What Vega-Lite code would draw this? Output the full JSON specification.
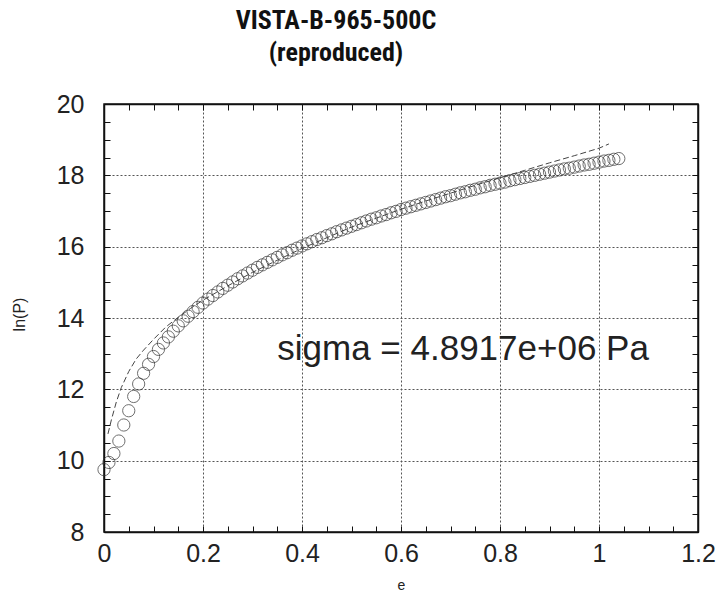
{
  "$schema": "https://vega.github.io/schema/vega-lite/v6.json",
  "width": 594,
  "height": 428,
  "autosize": {"type": "none"},
  "padding": {"left": 104, "top": 104, "right": 22, "bottom": 70},
  "background": "white",
  "config": {
    "view": {"stroke": "#111", "strokeWidth": 1.5},
    "font": "Liberation Sans"
  },
  "title": {
    "text": ["VISTA-B-965-500C", "(reproduced)"],
    "font": "Roboto Condensed, DejaVu Sans Condensed, Liberation Sans, sans-serif",
    "fontWeight": "bold",
    "fontSize": 26,
    "lineHeight": 32,
    "anchor": "middle",
    "dx": -65,
    "offset": 26,
    "color": "#111"
  },
  "datasets": {
    "pts": [
      {"e": 0.00, "lnP": 9.75}, {"e": 0.01, "lnP": 9.95}, {"e": 0.02, "lnP": 10.2}, {"e": 0.03, "lnP": 10.55},
      {"e": 0.04, "lnP": 11.0}, {"e": 0.05, "lnP": 11.4}, {"e": 0.06, "lnP": 11.8}, {"e": 0.07, "lnP": 12.15},
      {"e": 0.08, "lnP": 12.45}, {"e": 0.09, "lnP": 12.7}, {"e": 0.10, "lnP": 12.92}, {"e": 0.11, "lnP": 13.12},
      {"e": 0.12, "lnP": 13.3}, {"e": 0.13, "lnP": 13.47}, {"e": 0.14, "lnP": 13.63}, {"e": 0.15, "lnP": 13.78},
      {"e": 0.16, "lnP": 13.92}, {"e": 0.17, "lnP": 14.05}, {"e": 0.18, "lnP": 14.18}, {"e": 0.19, "lnP": 14.3},
      {"e": 0.20, "lnP": 14.42}, {"e": 0.21, "lnP": 14.53}, {"e": 0.22, "lnP": 14.63}, {"e": 0.23, "lnP": 14.73},
      {"e": 0.24, "lnP": 14.83}, {"e": 0.25, "lnP": 14.92}, {"e": 0.26, "lnP": 15.01}, {"e": 0.27, "lnP": 15.1},
      {"e": 0.28, "lnP": 15.18}, {"e": 0.29, "lnP": 15.26}, {"e": 0.30, "lnP": 15.34}, {"e": 0.31, "lnP": 15.42},
      {"e": 0.32, "lnP": 15.49}, {"e": 0.33, "lnP": 15.56}, {"e": 0.34, "lnP": 15.63}, {"e": 0.35, "lnP": 15.7},
      {"e": 0.36, "lnP": 15.77}, {"e": 0.37, "lnP": 15.83}, {"e": 0.38, "lnP": 15.9}, {"e": 0.39, "lnP": 15.96},
      {"e": 0.40, "lnP": 16.02}, {"e": 0.41, "lnP": 16.08}, {"e": 0.42, "lnP": 16.14}, {"e": 0.43, "lnP": 16.2},
      {"e": 0.44, "lnP": 16.25}, {"e": 0.45, "lnP": 16.31}, {"e": 0.46, "lnP": 16.36}, {"e": 0.47, "lnP": 16.42},
      {"e": 0.48, "lnP": 16.47}, {"e": 0.49, "lnP": 16.52}, {"e": 0.50, "lnP": 16.57}, {"e": 0.51, "lnP": 16.62},
      {"e": 0.52, "lnP": 16.67}, {"e": 0.53, "lnP": 16.72}, {"e": 0.54, "lnP": 16.77}, {"e": 0.55, "lnP": 16.81},
      {"e": 0.56, "lnP": 16.86}, {"e": 0.57, "lnP": 16.9}, {"e": 0.58, "lnP": 16.95}, {"e": 0.59, "lnP": 16.99},
      {"e": 0.60, "lnP": 17.04}, {"e": 0.61, "lnP": 17.08}, {"e": 0.62, "lnP": 17.12}, {"e": 0.63, "lnP": 17.16},
      {"e": 0.64, "lnP": 17.2}, {"e": 0.65, "lnP": 17.24}, {"e": 0.66, "lnP": 17.28}, {"e": 0.67, "lnP": 17.32},
      {"e": 0.68, "lnP": 17.36}, {"e": 0.69, "lnP": 17.4}, {"e": 0.70, "lnP": 17.43}, {"e": 0.71, "lnP": 17.47},
      {"e": 0.72, "lnP": 17.51}, {"e": 0.73, "lnP": 17.54}, {"e": 0.74, "lnP": 17.58}, {"e": 0.75, "lnP": 17.61},
      {"e": 0.76, "lnP": 17.65}, {"e": 0.77, "lnP": 17.68}, {"e": 0.78, "lnP": 17.72}, {"e": 0.79, "lnP": 17.75},
      {"e": 0.80, "lnP": 17.78}, {"e": 0.81, "lnP": 17.81}, {"e": 0.82, "lnP": 17.85}, {"e": 0.83, "lnP": 17.88},
      {"e": 0.84, "lnP": 17.91}, {"e": 0.85, "lnP": 17.94}, {"e": 0.86, "lnP": 17.97}, {"e": 0.87, "lnP": 18.0},
      {"e": 0.88, "lnP": 18.03}, {"e": 0.89, "lnP": 18.06}, {"e": 0.90, "lnP": 18.09}, {"e": 0.91, "lnP": 18.12},
      {"e": 0.92, "lnP": 18.15}, {"e": 0.93, "lnP": 18.18}, {"e": 0.94, "lnP": 18.2}, {"e": 0.95, "lnP": 18.23},
      {"e": 0.96, "lnP": 18.26}, {"e": 0.97, "lnP": 18.29}, {"e": 0.98, "lnP": 18.31}, {"e": 0.99, "lnP": 18.34},
      {"e": 1.00, "lnP": 18.37}, {"e": 1.01, "lnP": 18.4}, {"e": 1.02, "lnP": 18.42}, {"e": 1.03, "lnP": 18.45},
      {"e": 1.04, "lnP": 18.47}
    ],
    "fit": [
      {"e": 0.008, "lnP": 10.75}, {"e": 0.015, "lnP": 11.15}, {"e": 0.025, "lnP": 11.65}, {"e": 0.035, "lnP": 12.05},
      {"e": 0.05, "lnP": 12.5}, {"e": 0.065, "lnP": 12.85}, {"e": 0.08, "lnP": 13.1}, {"e": 0.1, "lnP": 13.4},
      {"e": 0.125, "lnP": 13.75}, {"e": 0.15, "lnP": 14.02}, {"e": 0.175, "lnP": 14.27}, {"e": 0.2, "lnP": 14.5},
      {"e": 0.25, "lnP": 14.9}, {"e": 0.3, "lnP": 15.28}, {"e": 0.35, "lnP": 15.62}, {"e": 0.4, "lnP": 15.95},
      {"e": 0.45, "lnP": 16.25}, {"e": 0.5, "lnP": 16.55}, {"e": 0.55, "lnP": 16.8}, {"e": 0.6, "lnP": 17.05},
      {"e": 0.65, "lnP": 17.28}, {"e": 0.7, "lnP": 17.5}, {"e": 0.75, "lnP": 17.72}, {"e": 0.8, "lnP": 17.93},
      {"e": 0.85, "lnP": 18.14}, {"e": 0.9, "lnP": 18.35}, {"e": 0.95, "lnP": 18.55}, {"e": 1.0, "lnP": 18.76},
      {"e": 1.02, "lnP": 18.88}
    ],
    "ann": [
      {"e": 0.35, "lnP": 12.82, "label": "sigma = 4.8917e+06 Pa"}
    ]
  },
  "layer": [
    {
      "data": {"name": "pts"},
      "mark": {"type": "point", "shape": "circle", "filled": false, "size": 150, "stroke": "#333", "strokeWidth": 1},
      "encoding": {
        "x": {
          "field": "e", "type": "quantitative",
          "scale": {"domain": [0, 1.2], "nice": false, "zero": false},
          "axis": {
            "orient": "bottom",
            "values": [0, 0.05, 0.1, 0.15, 0.2, 0.25, 0.3, 0.35, 0.4, 0.45, 0.5, 0.55, 0.6, 0.65, 0.7, 0.75, 0.8, 0.85, 0.9, 0.95, 1, 1.05, 1.1, 1.15, 1.2],
            "labelExpr": "abs(datum.value*5-round(datum.value*5))<0.001 ? format(datum.value,'~g') : ''",
            "labelFlush": false,
            "labelOverlap": false,
            "labelPadding": 15,
            "labelFontSize": 25,
            "labelColor": "#222",
            "tickSize": -6,
            "tickColor": "#111",
            "domainColor": "#111",
            "domainWidth": 1.5,
            "grid": true,
            "gridDash": [2, 2],
            "gridColor": "#555",
            "gridOpacity": {"condition": {"test": "abs(datum.value*5-round(datum.value*5))>0.001", "value": 0}, "value": 1},
            "title": "e",
            "titleFontSize": 14,
            "titleFontWeight": "normal",
            "titleColor": "#222",
            "titleY": 53,
            "titleBaseline": "middle"
          }
        },
        "y": {
          "field": "lnP", "type": "quantitative",
          "scale": {"domain": [8, 20], "nice": false, "zero": false},
          "axis": {
            "orient": "left",
            "values": [8, 8.5, 9, 9.5, 10, 10.5, 11, 11.5, 12, 12.5, 13, 13.5, 14, 14.5, 15, 15.5, 16, 16.5, 17, 17.5, 18, 18.5, 19, 19.5, 20],
            "labelExpr": "abs(datum.value/2-round(datum.value/2))<0.001 ? format(datum.value,'d') : ''",
            "labelFlush": false,
            "labelOverlap": false,
            "labelPadding": 26,
            "labelFontSize": 25,
            "labelColor": "#222",
            "tickSize": -6,
            "tickColor": "#111",
            "domainColor": "#111",
            "domainWidth": 1.5,
            "grid": true,
            "gridDash": [2, 2],
            "gridColor": "#555",
            "gridOpacity": {"condition": {"test": "abs(datum.value/2-round(datum.value/2))>0.001", "value": 0}, "value": 1},
            "title": "ln(P)",
            "titleFontSize": 16,
            "titleFontWeight": "normal",
            "titleColor": "#222",
            "titleX": -85,
            "titleY": 210,
            "titleAngle": -90,
            "titleAlign": "center",
            "titleBaseline": "middle"
          }
        }
      }
    },
    {
      "data": {"name": "fit"},
      "mark": {"type": "line", "stroke": "#444", "strokeWidth": 1, "strokeDash": [6, 3]},
      "encoding": {
        "x": {
          "field": "e", "type": "quantitative",
          "axis": {
            "orient": "top",
            "values": [0, 0.05, 0.1, 0.15, 0.2, 0.25, 0.3, 0.35, 0.4, 0.45, 0.5, 0.55, 0.6, 0.65, 0.7, 0.75, 0.8, 0.85, 0.9, 0.95, 1, 1.05, 1.1, 1.15, 1.2],
            "labels": false, "grid": false, "title": null,
            "tickSize": -6, "tickColor": "#111", "domainColor": "#111", "domainWidth": 1.5
          }
        },
        "y": {
          "field": "lnP", "type": "quantitative",
          "axis": {
            "orient": "right",
            "values": [8, 8.5, 9, 9.5, 10, 10.5, 11, 11.5, 12, 12.5, 13, 13.5, 14, 14.5, 15, 15.5, 16, 16.5, 17, 17.5, 18, 18.5, 19, 19.5, 20],
            "labels": false, "grid": false, "title": null,
            "tickSize": -6, "tickColor": "#111", "domainColor": "#111", "domainWidth": 1.5
          }
        }
      }
    },
    {
      "data": {"name": "ann"},
      "mark": {"type": "text", "align": "left", "baseline": "alphabetic", "fontSize": 35, "font": "Liberation Sans", "color": "#222"},
      "encoding": {
        "x": {"field": "e", "type": "quantitative", "axis": null},
        "y": {"field": "lnP", "type": "quantitative", "axis": null},
        "text": {"field": "label"}
      }
    }
  ],
  "resolve": {"axis": {"x": "independent", "y": "independent"}}
}
